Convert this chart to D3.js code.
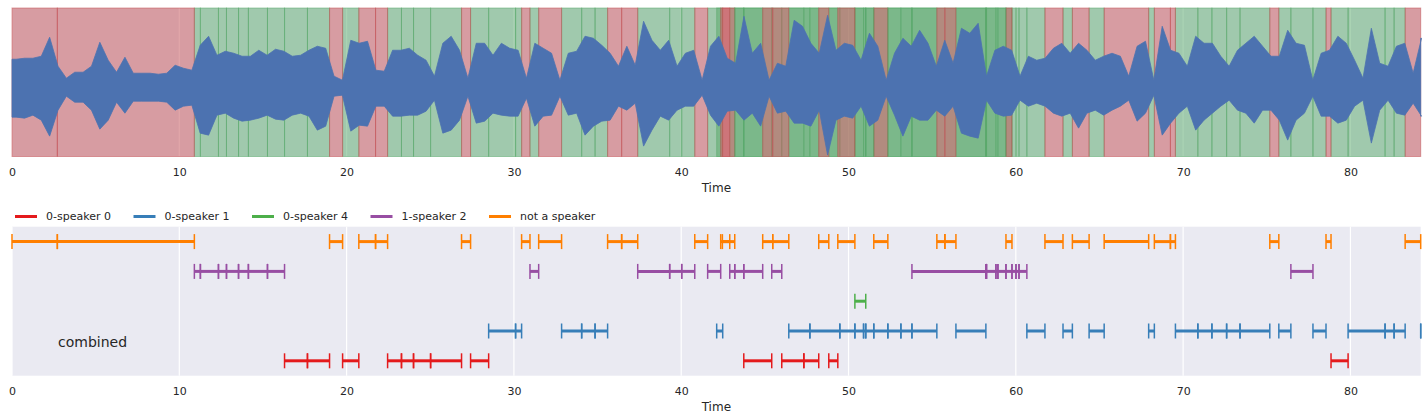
<!DOCTYPE html>
<html>
<head>
<meta charset="utf-8">
<script src="https://cdn.jsdelivr.net/npm/d3@7/dist/d3.min.js"></script>
<style>
  body { margin: 0; background: #ffffff; }
  text { font-family: "DejaVu Sans", sans-serif; fill: #262626; }
</style>
</head>
<body>
<div id="chart"></div>
<script>

/*******************************/
/*            Data             */
/*******************************/
// Tracks, top row first in the lower panel
const trackNames = ["not a speaker", "1-speaker 2", "0-speaker 4", "0-speaker 1", "0-speaker 0"];
const legendNames = ["0-speaker 0", "0-speaker 1", "0-speaker 4", "1-speaker 2", "not a speaker"];
const trackColors = {
  "0-speaker 0": "#E41A1C",
  "0-speaker 1": "#377EB8",
  "0-speaker 4": "#4DAF4A",
  "1-speaker 2": "#984EA3",
  "not a speaker": "#FF7F00"
};

// Segments [start, end] in seconds
const notSpeakerSegs = [
  [0, 2.71], [2.71, 10.9], [18.98, 19.76], [20.73, 21.73], [21.73, 22.45], [26.87, 27.41],
  [30.46, 30.96], [31.48, 32.85], [35.6, 36.44], [36.44, 37.4], [40.81, 41.58], [42.36, 42.9],
  [42.46, 43.2], [44.87, 45.47], [45.47, 46.43], [48.22, 48.82], [49.36, 50.38], [51.51, 52.35],
  [55.28, 55.76], [55.76, 56.42], [59.41, 59.77], [61.74, 62.82], [63.38, 64.38], [65.28, 67.94],
  [68.28, 69.24], [69.24, 69.54], [75.18, 75.72], [78.54, 78.84], [83.27, 84.2]
];
const speaker2Segs = [
  [10.9, 11.26], [11.26, 12.34], [12.34, 12.82], [12.82, 13.54], [13.54, 14.13], [14.13, 15.27],
  [15.27, 16.29], [30.96, 31.48], [37.4, 39.31], [39.31, 40.03], [40.03, 40.81], [41.58, 42.36],
  [42.9, 43.2], [43.2, 43.74], [43.74, 44.87], [45.41, 46.01], [53.79, 58.21], [58.21, 58.25],
  [58.25, 58.81], [58.81, 58.93], [58.93, 59.41], [59.41, 59.77], [59.77, 60.01], [60.01, 60.19],
  [60.19, 60.66], [76.44, 77.76]
];
const speaker4Segs = [[50.38, 51.03]];
const speaker1Segs = [
  [28.49, 30.1], [30.1, 30.46], [32.85, 34.05], [34.05, 34.85], [34.85, 35.6], [42.12, 42.48],
  [46.43, 47.69], [47.69, 49.48], [49.48, 50.38], [50.38, 50.9], [50.9, 51.03], [51.03, 51.51],
  [51.51, 52.35], [52.35, 53.13], [53.13, 53.79], [53.79, 55.28], [56.42, 58.21], [60.66, 61.74],
  [62.82, 63.38], [64.38, 65.28], [67.94, 68.28], [69.54, 70.88], [70.88, 71.72], [71.72, 72.6],
  [72.6, 73.4], [73.4, 75.18], [75.72, 76.44], [77.76, 78.54], [79.86, 82.07], [82.07, 82.61],
  [82.61, 83.27], [84.2, 84.2]
];
const speaker0Segs = [
  [16.29, 17.66], [17.66, 18.98], [19.76, 20.73], [22.45, 23.28], [23.28, 24.0], [24.0, 25.02],
  [25.02, 26.87], [27.41, 28.49], [43.74, 45.41], [46.01, 47.33], [47.33, 48.22], [48.82, 49.36],
  [78.84, 79.86]
];
// Extra (overlapping) speech shading seen only in the waveform panel
const topOnlySpeechSegs = [[43.2, 43.74], [51.03, 51.51], [52.35, 53.79], [58.21, 59.41]];

// Waveform envelope, one value per 0.5 s bin (upper / lower excursion)
const waveTop = [
  29, 30, 30, 32, 51, 22, 10, 16, 16, 22, 46, 28, 16, 31, 15, 15, 15, 14, 15, 23,
  20, 18, 43, 52, 33, 37, 35, 32, 32, 38, 33, 39, 37, 32, 33, 38, 42, 40, 12, 8,
  48, 45, 47, 18, 17, 38, 38, 40, 33, 28, 12, 45, 52, 38, 10, 45, 45, 33, 45, 40,
  38, 10, 45, 40, 35, 8, 35, 37, 52, 50, 43, 35, 22, 42, 23, 67, 48, 38, 48, 22,
  35, 38, 8, 42, 52, 30, 25, 72, 35, 45, 8, 25, 22, 68, 62, 45, 35, 73, 38, 45,
  43, 28, 55, 42, 8, 35, 50, 42, 58, 45, 22, 48, 25, 60, 55, 65, 12, 38, 42, 38,
  12, 32, 28, 30, 40, 45, 35, 45, 38, 28, 32, 35, 32, 12, 42, 47, 8, 62, 38, 35,
  22, 52, 45, 45, 32, 22, 38, 45, 52, 42, 32, 32, 58, 45, 43, 8, 35, 38, 52, 45,
  28, 10, 60, 25, 22, 42, 45, 15, 50
];
const waveBottom = [
  29, 30, 27, 32, 48, 22, 8, 14, 14, 22, 41, 32, 14, 25, 13, 13, 13, 13, 14, 22,
  18, 17, 45, 47, 27, 25, 30, 33, 32, 30, 27, 31, 32, 27, 25, 28, 42, 38, 8, 7,
  43, 37, 38, 18, 18, 28, 28, 27, 27, 23, 12, 45, 42, 32, 8, 35, 33, 25, 27, 28,
  28, 10, 38, 28, 27, 8, 27, 25, 47, 38, 33, 32, 18, 22, 15, 58, 42, 28, 32, 22,
  18, 18, 7, 27, 38, 23, 22, 32, 25, 38, 8, 25, 23, 35, 35, 38, 22, 67, 32, 28,
  30, 18, 38, 32, 8, 27, 48, 28, 32, 32, 22, 28, 18, 45, 48, 50, 12, 25, 28, 27,
  12, 18, 15, 18, 25, 28, 25, 40, 25, 22, 27, 22, 18, 12, 33, 25, 7, 47, 35, 25,
  18, 42, 32, 25, 18, 12, 22, 25, 35, 22, 22, 32, 52, 32, 25, 8, 28, 28, 35, 32,
  18, 12, 55, 22, 12, 25, 27, 15, 28
];
const binSize = 0.5;
const xTicks = [0, 10, 20, 30, 40, 50, 60, 70, 80];

const segsByTrack = {
  "0-speaker 0": speaker0Segs,
  "0-speaker 1": speaker1Segs,
  "0-speaker 4": speaker4Segs,
  "1-speaker 2": speaker2Segs,
  "not a speaker": notSpeakerSegs
};


/*******************************/
/*    Append the containers    */
/*******************************/
const width = 1428;
const height = 420;
const left = 12;
const right = 1420.7;
const xMax = 84.2;
const topPanel = { y0: 8, y1: 156.5 };
const botPanel = { y0: 226.7, y1: 375.7 };

const svg = d3.select("#chart")
  .append("svg")
    .attr("width", width)
    .attr("height", height);


/****************************/
/*    Declare the scales    */
/****************************/
const xScale = d3.scaleLinear()
  .domain([0, xMax])
  .range([left, right]);

const yWave = d3.scaleLinear()
  .domain([-68.4, 80.3])
  .range([topPanel.y1, topPanel.y0]);

const yTrack = d3.scalePoint()
  .domain(trackNames)
  .range([botPanel.y0, botPanel.y1])
  .padding(0.5);


/*******************************/
/*   Panel background + axes   */
/*******************************/
const drawFrame = (panel) => {
  svg.append("rect")
    .attr("x", left)
    .attr("y", panel.y0)
    .attr("width", right - left)
    .attr("height", panel.y1 - panel.y0)
    .attr("fill", "#EAEAF2");
  svg.append("g")
    .selectAll("line")
    .data(xTicks)
    .join("line")
      .attr("x1", d => xScale(d))
      .attr("x2", d => xScale(d))
      .attr("y1", panel.y0)
      .attr("y2", panel.y1)
      .attr("stroke", "#ffffff")
      .attr("stroke-width", 1.2);

  const axis = d3.axisBottom(xScale)
    .tickValues(xTicks)
    .tickFormat(d3.format("d"))
    .tickSize(0)
    .tickPadding(11.5);
  const g = svg.append("g")
    .attr("transform", `translate(0, ${panel.y1})`)
    .call(axis);
  g.select(".domain").remove();
  g.selectAll("text")
    .attr("font-size", 11)
    .attr("font-family", "DejaVu Sans")
    .attr("fill", "#262626");

  svg.append("text")
    .attr("x", (left + right) / 2)
    .attr("y", panel.y1 + 35)
    .attr("text-anchor", "middle")
    .attr("font-size", 12)
    .text("Time");
};

drawFrame(topPanel);
drawFrame(botPanel);


/*******************************/
/*   Top panel: spans + wave   */
/*******************************/
const spanData = [];
["0-speaker 0", "0-speaker 1", "0-speaker 4", "1-speaker 2", "not a speaker"].forEach(name => {
  segsByTrack[name].forEach(s => spanData.push({ speech: name !== "not a speaker", start: s[0], end: s[1] }));
});
topOnlySpeechSegs.forEach(s => spanData.push({ speech: true, start: s[0], end: s[1] }));

svg.append("g")
  .selectAll("rect")
  .data(spanData)
  .join("rect")
    .attr("x", d => xScale(d.start))
    .attr("y", topPanel.y0)
    .attr("width", d => xScale(d.end) - xScale(d.start))
    .attr("height", topPanel.y1 - topPanel.y0)
    .attr("fill", d => d.speech ? "#55A868" : "#C44E52")
    .attr("fill-opacity", 0.5)
    .attr("stroke", d => d.speech ? "#55A868" : "#C44E52")
    .attr("stroke-opacity", 0.5)
    .attr("stroke-width", 1);

// Envelope points at bin centres, held flat out to the panel edges
const wavePoints = waveTop.map((v, i) => ({ t: i * binSize + binSize / 2, top: v, bot: waveBottom[i] }));
wavePoints.unshift({ t: 0, top: waveTop[0], bot: waveBottom[0] });
wavePoints.push({ t: xMax, top: waveTop[waveTop.length - 1], bot: waveBottom[waveBottom.length - 1] });

const waveArea = d3.area()
  .x(d => xScale(d.t))
  .y0(d => yWave(-d.bot))
  .y1(d => yWave(d.top))
  .curve(d3.curveLinear);

svg.append("path")
  .attr("d", waveArea(wavePoints))
  .attr("fill", "#4C72B0")
  .attr("stroke", "#4C72B0")
  .attr("stroke-width", 0.8);


/*******************************/
/*  Bottom panel: segment rows */
/*******************************/
const rows = svg.append("g");
trackNames.forEach(name => {
  const y = yTrack(name);
  const color = trackColors[name];
  const segs = segsByTrack[name];
  rows.append("g")
    .selectAll("line")
    .data(segs)
    .join("line")
      .attr("x1", d => xScale(d[0]))
      .attr("x2", d => xScale(d[1]))
      .attr("y1", y)
      .attr("y2", y)
      .attr("stroke", color)
      .attr("stroke-width", 3);
  const edges = segs.flatMap(d => [d[0], d[1]]);
  rows.append("g")
    .selectAll("line")
    .data(edges)
    .join("line")
      .attr("x1", d => xScale(d))
      .attr("x2", d => xScale(d))
      .attr("y1", y - 7.5)
      .attr("y2", y + 7.5)
      .attr("stroke", color)
      .attr("stroke-width", 1.5);
});

svg.append("text")
  .attr("x", xScale(2.75))
  .attr("y", yTrack("0-speaker 1") + 16)
  .attr("font-size", 14)
  .text("combined");


/*******************************/
/*           Legend            */
/*******************************/
const legend = svg.append("g")
  .attr("transform", "translate(15, 216.5)");
const item = legend.selectAll("g")
  .data(legendNames)
  .join("g")
    .attr("transform", (d, i) => `translate(${i * 118.5}, 0)`);
item.append("line")
  .attr("x1", 0)
  .attr("x2", 22)
  .attr("stroke", d => trackColors[d])
  .attr("stroke-width", 3);
item.append("text")
  .attr("x", 31)
  .attr("dy", "0.35em")
  .attr("font-size", 11)
  .text(d => d);

</script>
</body>
</html>
